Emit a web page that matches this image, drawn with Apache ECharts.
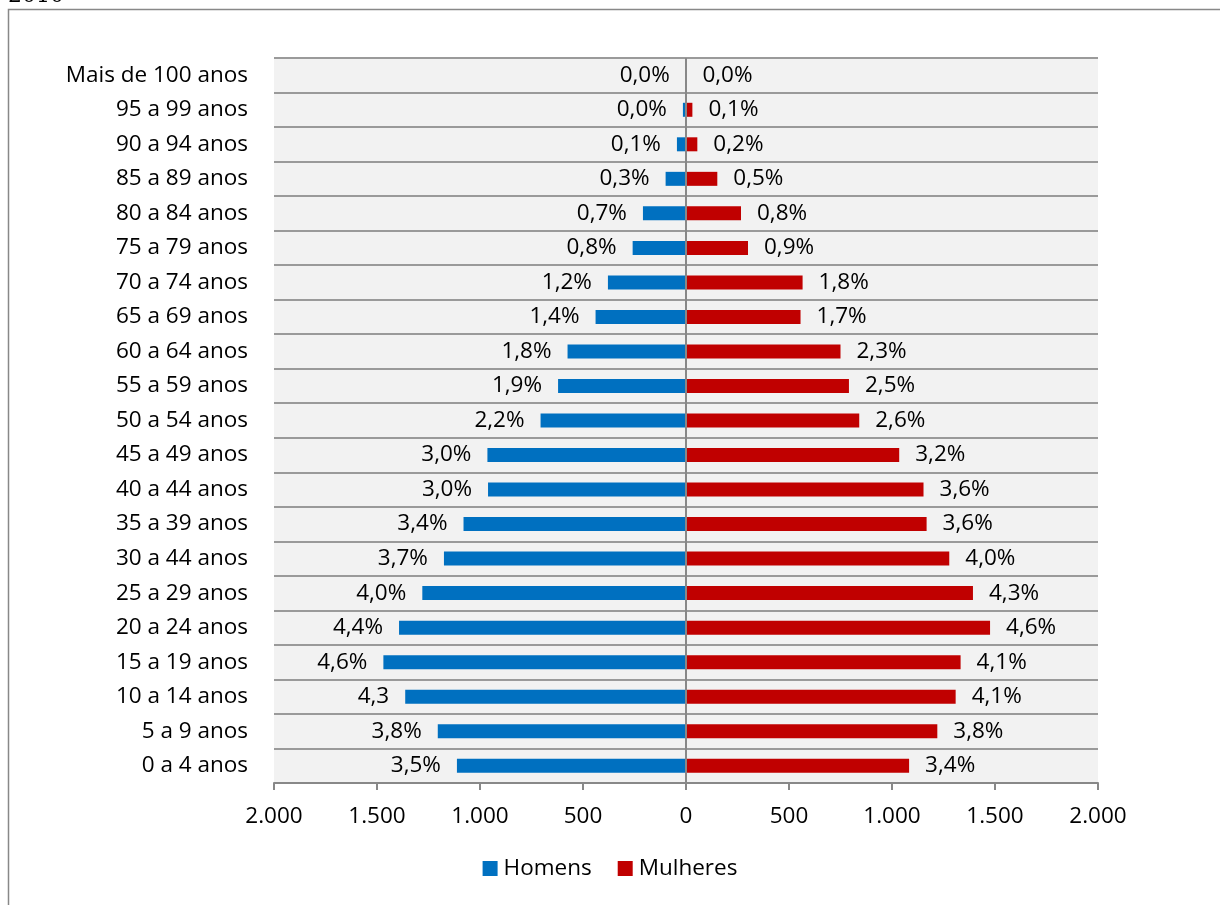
<!DOCTYPE html>
<html>
<head>
<meta charset="utf-8">
<script src="https://cdn.jsdelivr.net/npm/echarts@6/dist/echarts.min.js"></script>
<style>
	html, body{margin:0; padding:0; background:#fff;}
	#chart{width:1220px; height:905px;}
</style>
</head>
<body>
<div id="chart"></div>
<script>
// faixas etarias, de baixo para cima
var faixas = ['0 a 4 anos', '5 a 9 anos', '10 a 14 anos', '15 a 19 anos', '20 a 24 anos', '25 a 29 anos',
	'30 a 44 anos', '35 a 39 anos', '40 a 44 anos', '45 a 49 anos', '50 a 54 anos', '55 a 59 anos',
	'60 a 64 anos', '65 a 69 anos', '70 a 74 anos', '75 a 79 anos', '80 a 84 anos', '85 a 89 anos',
	'90 a 94 anos', '95 a 99 anos', 'Mais de 100 anos'];

var homens = [1112, 1205, 1363, 1469, 1393, 1280, 1175, 1080, 961, 964, 706, 621, 575, 439, 379, 259, 209, 99, 44, 15, 1];
var mulheres = [1083, 1220, 1309, 1333, 1476, 1393, 1278, 1168, 1153, 1035, 841, 791, 750, 556, 566, 301, 267, 152, 55, 31, 2];

var rotulosHomens = ['3,5%', '3,8%', '4,3', '4,6%', '4,4%', '4,0%', '3,7%', '3,4%', '3,0%', '3,0%', '2,2%',
	'1,9%', '1,8%', '1,4%', '1,2%', '0,8%', '0,7%', '0,3%', '0,1%', '0,0%', '0,0%'];
var rotulosMulheres = ['3,4%', '3,8%', '4,1%', '4,1%', '4,6%', '4,3%', '4,0%', '3,6%', '3,6%', '3,2%', '2,6%',
	'2,5%', '2,3%', '1,7%', '1,8%', '0,9%', '0,8%', '0,5%', '0,2%', '0,1%', '0,0%'];

var fonte = '"Open Sans", sans-serif';
var tamanho = 22.5;

function milhar(v){
	v = Math.abs(v);
	return String(v).replace(/\B(?=(\d{3})+(?!\d))/g, '.');
}

var chart = echarts.init(document.getElementById('chart'));

var option = {
	backgroundColor: '#fff',
	animation: false,
	textStyle: {fontFamily: fonte, color: '#000'},
	graphic: [
		{type: 'rect', shape: {x: 8.5, y: 9.5, width: 1240, height: 920}, style: {fill: 'none', stroke: '#888', lineWidth: 1.5}, silent: true},
		// titulo cortado no topo da imagem original
		{type: 'text', x: 8, y: 7, style: {text: '2010', font: '22px "DejaVu Serif", serif', fill: '#000', verticalAlign: 'bottom'}, silent: true}
	],
	grid: {left: 274, right: 122, top: 58, bottom: 122, show: true, backgroundColor: '#f2f2f2', borderWidth: 0},
	legend: {
		bottom: 20,
		left: 'center',
		itemWidth: 15, itemHeight: 15, itemGap: 26,
		icon: 'rect',
		textStyle: {fontFamily: fonte, fontSize: tamanho, color: '#000', padding: [0, 0, 0, 1]},
		data: ['Homens', 'Mulheres']
	},
	xAxis: {
		type: 'value',
		min: -2000, max: 2000, interval: 500,
		axisLine: {show: true, lineStyle: {color: '#888', width: 2}},
		axisTick: {show: true, length: 7, lineStyle: {color: '#888', width: 2}},
		splitLine: {show: false},
		axisLabel: {fontFamily: fonte, fontSize: tamanho, color: '#000', margin: 22, formatter: milhar}
	},
	yAxis: {
		type: 'category',
		data: faixas,
		axisLine: {show: false},
		axisTick: {show: false},
		splitLine: {show: true, lineStyle: {color: '#9a9a9a', width: 2}},
		axisLabel: {fontFamily: fonte, fontSize: tamanho, color: '#000', margin: 26}
	},
	series: [
		{
			name: 'Homens',
			type: 'bar',
			stack: 'piramide',
			barWidth: 14,
			itemStyle: {color: '#0070c0'},
			data: homens.map(function(v){ return -v; }),
			label: {
				show: true, position: 'left', distance: 16,
				fontFamily: fonte, fontSize: tamanho, color: '#000',
				formatter: function(p){ return rotulosHomens[p.dataIndex]; }
			},
			markLine: {
				silent: true, symbol: 'none', label: {show: false},
				lineStyle: {color: '#888', width: 2, type: 'solid'},
				data: [{xAxis: 0}]
			}
		},
		{
			name: 'Mulheres',
			type: 'bar',
			stack: 'piramide',
			barWidth: 14,
			itemStyle: {color: '#c00000'},
			data: mulheres,
			label: {
				show: true, position: 'right', distance: 16,
				fontFamily: fonte, fontSize: tamanho, color: '#000',
				formatter: function(p){ return rotulosMulheres[p.dataIndex]; }
			}
		}
	]
};

chart.setOption(option);
</script>
</body>
</html>
